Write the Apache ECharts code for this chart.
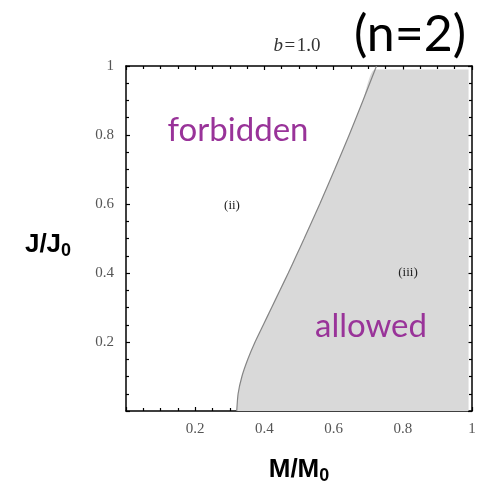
<!DOCTYPE html>
<html>
<head>
<meta charset="utf-8">
<script src="https://cdn.jsdelivr.net/npm/echarts@6/dist/echarts.min.js"></script>
<style>html,body{margin:0;padding:0;background:#fff}#c{width:485px;height:485px}</style>
</head>
<body>
<div id="c"></div>
<script>
// boundary curve between forbidden and allowed regions
var curveJ = [0, 0.05, 0.1, 0.15, 0.2, 0.25, 0.3, 0.35, 0.4, 0.45, 0.5, 0.6, 0.7, 0.8, 0.9, 1.0];
var curveM = [0.320, 0.324, 0.335, 0.352, 0.373, 0.397, 0.421, 0.445, 0.469, 0.492, 0.515, 0.560, 0.603, 0.645, 0.685, 0.724];
var xTicks = [0.2, 0.4, 0.6, 0.8, 1];
var yTicks = [0.2, 0.4, 0.6, 0.8, 1];
var fillEdge = 0.99;

var curveData = curveM.map(function (m, i) { return [m, curveJ[i]]; });
var areaData = [];
curveM.forEach(function (m, i) { if (curveJ[i] < fillEdge) areaData.push([m, curveJ[i]]); });
var n = curveM.length;
areaData.push([curveM[n - 2] + (curveM[n - 1] - curveM[n - 2]) * (fillEdge - curveJ[n - 2]) / (curveJ[n - 1] - curveJ[n - 2]), fillEdge]);
areaData.push([fillEdge, fillEdge]);

var chart = echarts.init(document.getElementById('c'), null, { renderer: 'canvas' });
var serif = 'Liberation Serif';
function fmt(v) { return v === 0 ? '' : (v === 1 ? '1' : v.toFixed(1)); }
var tickStyle = { show: true, inside: true, length: 4, lineStyle: { color: '#000', width: 1.2 } };
var minorStyle = { show: true, splitNumber: 4, length: 3, lineStyle: { color: '#000', width: 1.2 } };
var lineStyle = { show: true, onZero: false, lineStyle: { color: '#000', width: 1.5 } };

chart.setOption({
  animation: false,
  backgroundColor: '#fff',
  grid: { left: 126, right: 13, top: 66, bottom: 74 },
  xAxis: [
    { type: 'value', min: 0, max: 1, interval: 0.2, position: 'bottom',
      axisLine: lineStyle, axisTick: tickStyle, minorTick: minorStyle, splitLine: { show: false },
      axisLabel: { color: '#555', fontFamily: serif, fontSize: 15, margin: 11,
        formatter: function (v) { return xTicks.indexOf(+v.toFixed(2)) >= 0 ? fmt(v) : ''; } } },
    { type: 'value', min: 0, max: 1, interval: 0.2, position: 'top',
      axisLine: lineStyle, axisTick: tickStyle, minorTick: minorStyle, splitLine: { show: false },
      axisLabel: { show: false } }
  ],
  yAxis: [
    { type: 'value', min: 0, max: 1, interval: 0.2, position: 'left',
      axisLine: lineStyle, axisTick: tickStyle, minorTick: minorStyle, splitLine: { show: false },
      axisLabel: { color: '#555', fontFamily: serif, fontSize: 15, margin: 12,
        formatter: function (v) { return yTicks.indexOf(+v.toFixed(2)) >= 0 ? fmt(v) : ''; } } },
    { type: 'value', min: 0, max: 1, interval: 0.2, position: 'right',
      axisLine: lineStyle, axisTick: tickStyle, minorTick: minorStyle, splitLine: { show: false },
      axisLabel: { show: false } }
  ],
  series: [
    { type: 'line', data: areaData, symbol: 'none', silent: true, smooth: 0.2,
      lineStyle: { width: 0, opacity: 0 },
      areaStyle: { color: '#d9d9d9', opacity: 1, origin: 'start' }, z: 1 },
    { type: 'line', data: curveData, symbol: 'none', smooth: 0.2, silent: true,
      lineStyle: { color: '#858585', width: 1.2 }, z: 2 }
  ],
  graphic: [
    { type: 'text', z: 100, x: 238, y: 130, style: { text: 'forbidden', font: '33px Lato', fill: '#993399', align: 'center', verticalAlign: 'middle' } },
    { type: 'text', z: 100, x: 371, y: 326, style: { text: 'allowed', font: '33px Lato', fill: '#993399', align: 'center', verticalAlign: 'middle' } },
    { type: 'text', z: 100, x: 232, y: 206, style: { text: '(ii)', font: '13px "Liberation Serif"', fill: '#222', align: 'center', verticalAlign: 'middle' } },
    { type: 'text', z: 100, x: 408, y: 273, style: { text: '(iii)', font: '13px "Liberation Serif"', fill: '#222', align: 'center', verticalAlign: 'middle' } },
    { type: 'text', z: 100, x: 297, y: 46, style: { text: '{i|b}{n|\u200a=\u200a1.0}', align: 'center', verticalAlign: 'middle',
      rich: { i: { font: 'italic 19px "Liberation Serif"', fill: '#333' }, n: { font: '19px "Liberation Serif"', fill: '#333' } } } },
    { type: 'text', z: 100, x: 410, y: 35, style: { text: '(n=2)', font: '50px "Lato"', fill: '#000', align: 'center', verticalAlign: 'middle' } },
    { type: 'text', z: 100, x: 299, y: 470, style: { text: '{a|M/M}{s|0}', align: 'center', verticalAlign: 'middle',
      rich: { a: { font: 'bold 26px "Liberation Sans"', fill: '#000' }, s: { font: 'bold 18px "Liberation Sans"', fill: '#000', padding: [13, 0, 0, 0] } } } },
    { type: 'text', z: 100, x: 48, y: 245, style: { text: '{a|J/J}{s|0}', align: 'center', verticalAlign: 'middle',
      rich: { a: { font: 'bold 26px "Liberation Sans"', fill: '#000' }, s: { font: 'bold 18px "Liberation Sans"', fill: '#000', padding: [13, 0, 0, 0] } } } }
  ]
});
</script>
</body>
</html>
